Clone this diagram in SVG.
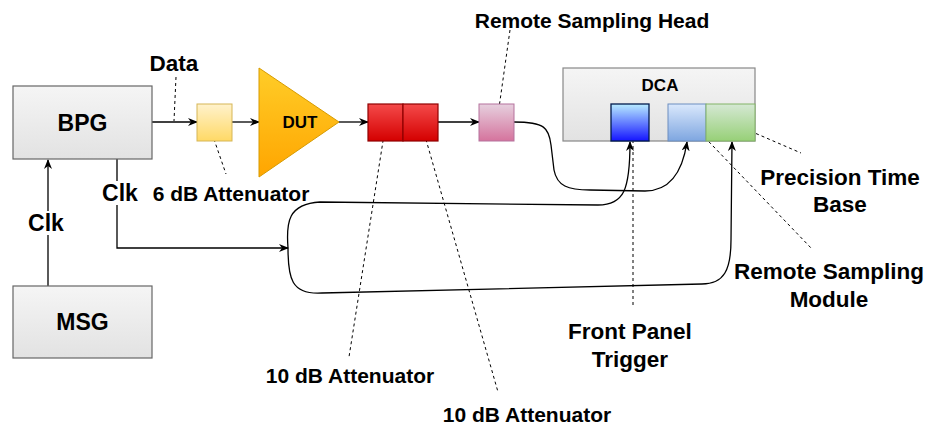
<svg xmlns="http://www.w3.org/2000/svg" width="928" height="425" viewBox="0 0 928 425">
<defs>
<linearGradient id="gGray" x1="0" y1="0" x2="0" y2="1"><stop offset="0" stop-color="#f5f5f5"/><stop offset="1" stop-color="#e2e2e2"/></linearGradient>
<linearGradient id="gYel" x1="0" y1="0" x2="0" y2="1"><stop offset="0" stop-color="#fff2cc"/><stop offset="1" stop-color="#ffd966"/></linearGradient>
<linearGradient id="gOr" x1="0" y1="0" x2="0" y2="1"><stop offset="0" stop-color="#ffcd28"/><stop offset="1" stop-color="#ffa500"/></linearGradient>
<linearGradient id="gRed" x1="0" y1="0" x2="0" y2="1"><stop offset="0" stop-color="#f44a4a"/><stop offset="1" stop-color="#d40000"/></linearGradient>
<linearGradient id="gPink" x1="0" y1="0" x2="0" y2="1"><stop offset="0" stop-color="#e6d0de"/><stop offset="1" stop-color="#d5739d"/></linearGradient>
<linearGradient id="gBlue" x1="0" y1="0" x2="0" y2="1"><stop offset="0" stop-color="#b8ecff"/><stop offset="1" stop-color="#1414ff"/></linearGradient>
<linearGradient id="gLBlue" x1="0" y1="0" x2="0" y2="1"><stop offset="0" stop-color="#dae8fc"/><stop offset="1" stop-color="#7ea6e0"/></linearGradient>
<linearGradient id="gGreen" x1="0" y1="0" x2="0" y2="1"><stop offset="0" stop-color="#d5e8d4"/><stop offset="1" stop-color="#97d077"/></linearGradient>
<marker id="arr" viewBox="0 0 10 8" refX="9" refY="4" markerWidth="10" markerHeight="8" markerUnits="userSpaceOnUse" orient="auto">
<path d="M0,0 L10,4 L0,8 L3,4 z" fill="#000"/>
</marker>
</defs>
<style>
text{font-family:"Liberation Sans",Arial,Helvetica,sans-serif;font-weight:bold;fill:#000;text-anchor:middle;dominant-baseline:central}
.lbl{font-size:21px}
.big{font-size:22.5px}
.node{font-size:23px}
.sm{font-size:17px}
.wire{fill:none;stroke:#000;stroke-width:1.3}
.dash{fill:none;stroke:#000;stroke-width:1;stroke-dasharray:3 3}
</style>

<g id="connectors">
<path class="wire" d="M48,286 L48,160" marker-end="url(#arr)"/>
<path class="wire" d="M117,159 L117,248 L288,248" marker-end="url(#arr)"/>
<path class="wire" d="M152,122 L197,122" marker-end="url(#arr)"/>
<path class="wire" d="M232,122 L259,122" marker-end="url(#arr)"/>
<path class="wire" d="M339,122 L368,122" marker-end="url(#arr)"/>
<path class="wire" d="M438,122 L479,122" marker-end="url(#arr)"/>
<path class="wire" d="M514,122 C545,122 549,128 551,145 L554,170 C557,186 568,190 590,190 L645,191 C668,191 682,175 687,142" marker-end="url(#arr)"/>
<path class="wire" d="M288,248 C286,222 288,204 320,202 L598,205 C624,205 630,190 630,142" marker-end="url(#arr)"/>
<path class="wire" d="M288,248 C288,278 291,295 322,293 L702,284 C724,284 731,270 731,240 L732,142" marker-end="url(#arr)"/>
<path class="dash" d="M176,77 L174,121"/>
<path class="dash" d="M208,122 L226,174"/>
<path class="dash" d="M386,122 L349,357"/>
<path class="dash" d="M421,122 L498,392"/>
<path class="dash" d="M510,30 L497,122"/>
<path class="dash" d="M633,122 L633,306"/>
<path class="dash" d="M688,120 L812,249"/>
<path class="dash" d="M734,124 L801,153"/>
</g>

<g id="bpg">
<rect x="13" y="86" width="139" height="73" fill="url(#gGray)" stroke="#666" stroke-width="1.2"/>
<text class="node" x="82.5" y="122.5">BPG</text>
</g>
<g id="msg">
<rect x="13" y="286" width="139" height="72" fill="url(#gGray)" stroke="#666" stroke-width="1.2"/>
<text class="node" x="82.5" y="322">MSG</text>
</g>
<g id="clk-labels">
<rect x="100" y="181" width="40" height="24" fill="#fff"/>
<text class="node" x="120" y="193">Clk</text>
<rect x="26" y="211" width="42" height="24" fill="#fff"/>
<text class="node" x="46" y="223">Clk</text>
</g>
<g id="data-label"><text class="lbl" x="174" y="63" style="font-size:22.5px">Data</text></g>
<g id="att6">
<rect x="197" y="104" width="35" height="37" fill="url(#gYel)" stroke="#d6b656"/>
</g>
<g id="dut">
<path d="M259,68 L339,122 L259,177 Z" fill="url(#gOr)" stroke="#d79b00"/>
<text class="sm" x="300" y="122">DUT</text>
</g>
<g id="att10a"><rect x="368" y="104" width="35" height="37" fill="url(#gRed)" stroke="#8f0000" stroke-width="1.2"/></g>
<g id="att10b"><rect x="403" y="104" width="35" height="37" fill="url(#gRed)" stroke="#8f0000" stroke-width="1.2"/></g>
<g id="rsh"><rect x="479" y="104" width="35" height="37" fill="url(#gPink)" stroke="#b5739d"/></g>
<g id="dca">
<rect x="563" y="68" width="192" height="73" fill="url(#gGray)" stroke="#888" stroke-width="1.2"/>
<text class="sm" x="660" y="85">DCA</text>
</g>
<g id="fpt"><rect x="611" y="104" width="38" height="37" fill="url(#gBlue)" stroke="#001a4d" stroke-width="1.3"/></g>
<g id="rsm"><rect x="668" y="104" width="38" height="37" fill="url(#gLBlue)" stroke="#6c8ebf"/></g>
<g id="ptb"><rect x="706" y="104" width="49" height="37" fill="url(#gGreen)" stroke="#82b366"/></g>

<g id="labels">
<text class="lbl" x="231" y="193">6 dB Attenuator</text>
<text class="lbl" x="350" y="375">10 dB Attenuator</text>
<text class="lbl" x="527" y="414">10 dB Attenuator</text>
<text class="lbl" x="592" y="20">Remote Sampling Head</text>
<text class="big" x="630" y="331">Front Panel</text>
<text class="big" x="630" y="359">Trigger</text>
<text class="big" x="829" y="271">Remote Sampling</text>
<text class="big" x="829" y="299">Module</text>
<text class="big" x="840" y="177">Precision Time</text>
<text class="big" x="840" y="204">Base</text>
</g>
</svg>
